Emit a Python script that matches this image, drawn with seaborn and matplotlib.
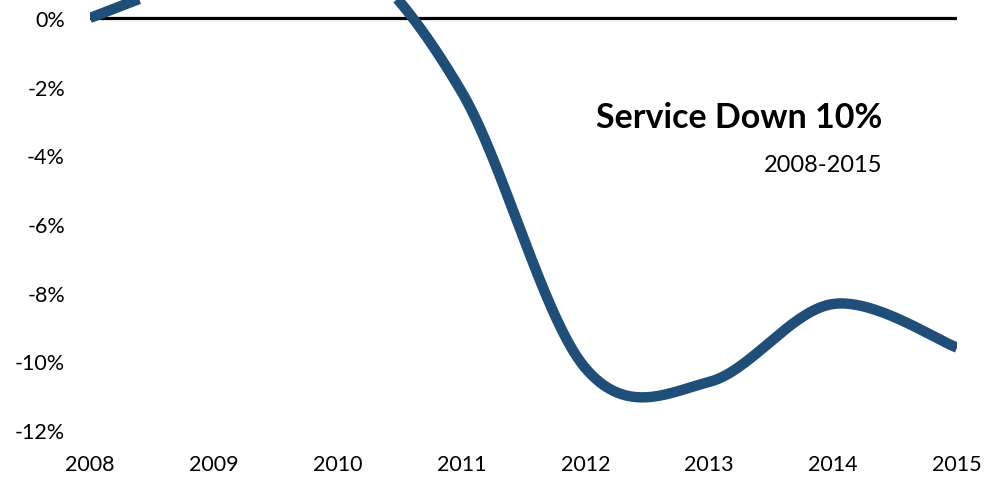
import numpy as np
import pandas as pd
import seaborn as sns
import matplotlib.pyplot as plt
from matplotlib.ticker import FuncFormatter

years = [2008, 2009, 2010, 2011, 2012, 2013, 2014, 2015]
change = [0.0, 1.3, 2.0, -2.15, -10.2, -10.6, -8.33, -9.6]  # % vs 2008
y_ticks = [0, -2, -4, -6, -8, -10, -12]

title = "Service Down 10%"
subtitle = "2008-2015"


# excel style smoothed line (cardinal bezier between the yearly points)
def smooth(xs, ys, n=60):
    p = np.column_stack([xs, ys]).astype(float)
    p = np.vstack([p[0], p, p[-1]])
    out = []
    for i in range(1, len(p) - 2):
        p0, p1, p2, p3 = p[i - 1], p[i], p[i + 1], p[i + 2]
        c1 = p1 + (p2 - p0) / 6
        c2 = p2 - (p3 - p1) / 6
        t = np.linspace(0, 1, n)[:, None]
        seg = ((1 - t) ** 3) * p1 + 3 * ((1 - t) ** 2) * t * c1 + 3 * (1 - t) * t ** 2 * c2 + t ** 3 * p2
        out.append(seg if i == 1 else seg[1:])
    out = np.vstack(out)
    return pd.DataFrame({"year": out[:, 0], "change": out[:, 1]})


curve = smooth(years, change)

sns.set_style("white")
plt.rcParams["font.family"] = ["Lato", "DejaVu Sans"]
plt.rcParams["text.color"] = "black"
plt.rcParams["xtick.color"] = "black"
plt.rcParams["ytick.color"] = "black"

fig = plt.figure(figsize=(10.05, 4.81), dpi=100)
ax = fig.add_axes([90 / 1005, 50 / 481, 867 / 1005, 431 / 481])

ax.axhline(0, color="black", lw=2.3, zorder=1)
sns.lineplot(data=curve, x="year", y="change", ax=ax, color="#1f4e79",
             lw=7.5, sort=False, zorder=2, solid_capstyle="butt")

ax.set_xlim(2008, 2015)
ax.set_ylim(-12, 0.55)
ax.set_xticks(years)
ax.set_yticks(y_ticks)
ax.yaxis.set_major_formatter(FuncFormatter(lambda v, _: f"{v:.0f}%"))
ax.tick_params(axis="x", labelsize=15.5, pad=17, length=0)
ax.tick_params(axis="y", labelsize=15.5, pad=18, length=0)
ax.set_xlabel("")
ax.set_ylabel("")
for s in ax.spines.values():
    s.set_visible(False)

ax.text(0.9135, 0.726, title, transform=ax.transAxes, ha="right", va="center",
        fontsize=24.5, fontweight="bold")
ax.text(0.9135, 0.617, subtitle, transform=ax.transAxes, ha="right", va="center",
        fontsize=17)

fig.savefig("out.png", dpi=100)
